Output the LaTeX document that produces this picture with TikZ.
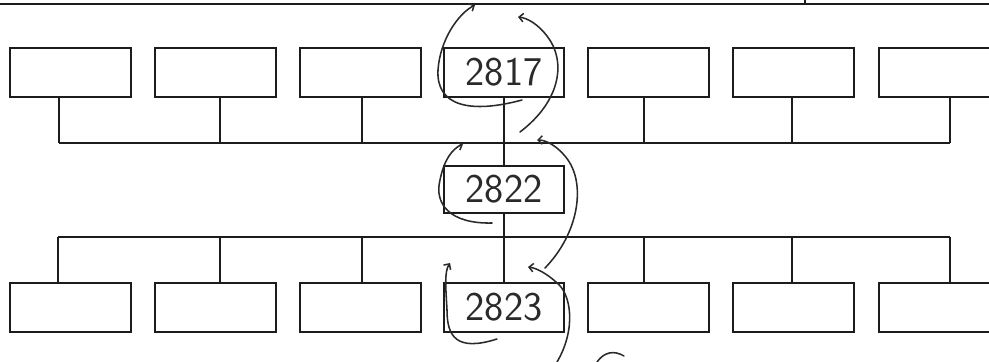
\documentclass[tikz,border=0pt]{standalone}
\usepackage{tikz}
\usetikzlibrary{arrows.meta,positioning,calc}
\definecolor{ink}{HTML}{1C1C1C}
\definecolor{pen}{HTML}{2A2A2A}

\begin{document}
\begin{tikzpicture}[x=0.025cm,y=-0.025cm,
    cell/.style={draw=ink,line width=1.5pt,minimum width=3.02cm,minimum height=1.22cm,inner sep=0pt,
      font=\fontsize{29}{29}\selectfont\sffamily,text=pen},
    tree/.style={draw=ink,line width=1.4pt},
    scrawl/.style={draw=pen,line width=1.1pt,line cap=round},
    hook/.style={scrawl,-{Straight Barb[length=3pt,width=6pt]}}]
  \useasboundingbox (0,0) rectangle (989,362);
  \clip (0,0) rectangle (989,362);
  % top edge of the sheet
  \draw[ink,line width=1.8pt] (0,4) -- (989,4);
  \draw[ink,line width=1.1pt] (805,0) -- (805,4);
  % top row
  \foreach \i/\x in {1/70.5,2/215.5,3/360.5,5/648.5,6/793.5,7/939.5}{
    \node[cell] (t\i) at (\x,72.5) {};
  }
  \node[cell] (t4) at (504,72.5) {2817};
  \coordinate (topbus) at (0,143);
  \foreach \i/\d in {1/-11.5,2/4.5,3/1.5,5/-4.5,6/-1.5,7/10.5}{
    \coordinate (s) at ($(t\i.south)+(\d,0)$);
    \draw[tree] (s) -- (s |- topbus);
  }
  \coordinate (tl) at ($(t1.south)+(-11.5,0)$);
  \coordinate (tr) at ($(t7.south)+(10.5,0)$);
  \draw[tree] (tl |- topbus) -- (tr |- topbus);
  % middle
  \node[cell,minimum height=1.18cm] (m) at (504,189.5) {2822};
  \draw[tree] (t4) -- (m);
  % bottom row
  \foreach \i/\x in {1/70.5,2/215.5,3/360.5,5/648.5,6/793.5,7/939.5}{
    \node[cell] (b\i) at (\x,307.5) {};
  }
  \node[cell] (b4) at (504,307.5) {2823};
  \draw[tree] (m) -- (b4);
  \coordinate (lowbus) at (0,237);
  \foreach \i/\d in {1/-12.5,2/4.5,3/1.5,5/-4.5,6/-1.5,7/10.5}{
    \coordinate (s) at ($(b\i.north)+(\d,0)$);
    \draw[tree] (s) -- (s |- lowbus);
  }
  \coordinate (bl) at ($(b1.north)+(-12.5,0)$);
  \coordinate (br) at ($(b7.north)+(10.5,0)$);
  \draw[tree] (bl |- lowbus) -- (br |- lowbus);
  % pen strokes
  \draw[hook] (522,100) .. controls (470,114) and (436,106) .. (438,70) .. controls (440,40) and (458,14) .. (475,5);
  \draw[hook] (520,132) .. controls (562,100) and (566,60) .. (547,36) .. controls (538,24) and (527,18) .. (518,17);
  \draw[hook] (492,223) .. controls (450,224) and (434,204) .. (440,180) .. controls (444,160) and (452,149) .. (463,144);
  \draw[hook] (545,268) .. controls (578,234) and (586,186) .. (568,160) .. controls (558,146) and (546,140) .. (537,140);
  \draw[hook] (497,339) .. controls (456,352) and (447,336) .. (447,310) .. controls (446,290) and (444,272) .. (450,263);
  \draw[hook] (557,362) .. controls (576,330) and (572,294) .. (556,282) .. controls (546,273) and (536,268) .. (528,267);
  \draw[scrawl] (597,362) .. controls (604,352) and (614,350) .. (624,356);
\end{tikzpicture}
\end{document}
